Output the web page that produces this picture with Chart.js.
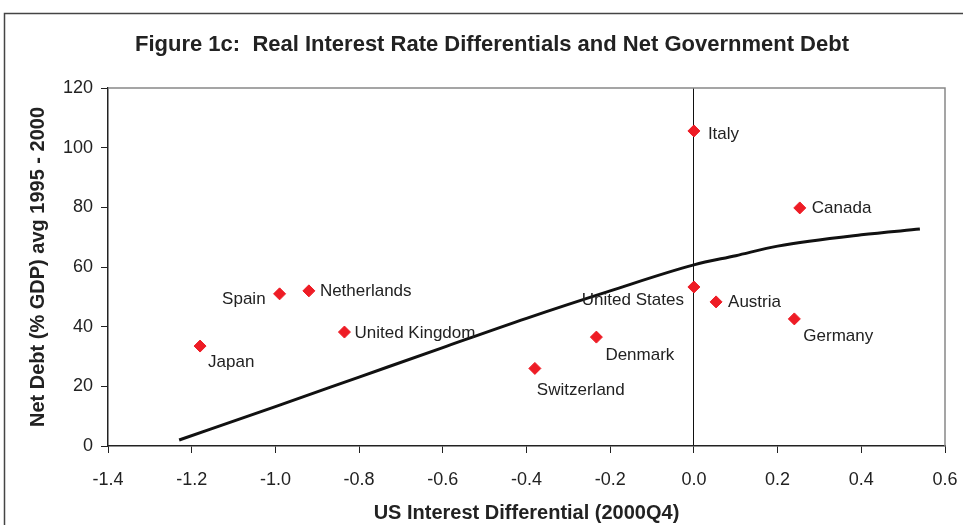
<!DOCTYPE html>
<html>
<head>
<meta charset="utf-8">
<script src="https://cdn.jsdelivr.net/npm/chart.js@4.4.1/dist/chart.umd.min.js"></script>
<style>
	html, body { margin: 0; padding: 0; background: #fff; }
	#wrap { position: relative; width: 963px; height: 525px; }
</style>
</head>
<body>
<div id="wrap"><canvas id="chart" width="963" height="525"></canvas></div>
<script>
// ── Data ────────────────────────────────────────────────────────────────────

const countries = ['Japan', 'Spain', 'Netherlands', 'United Kingdom', 'Switzerland', 'Denmark',
	'United States', 'Austria', 'Germany', 'Canada', 'Italy']
const interestDiff = [-1.18, -0.99, -0.92, -0.835, -0.38, -0.233, 0.0, 0.053, 0.24, 0.253, 0.0]
const netDebt = [33.5, 51, 52, 38.2, 26, 36.5, 53.3, 48.3, 42.6, 79.8, 105.6]

const fitX = [-1.23, -1.0, -0.8, -0.6, -0.4, -0.2, 0.0, 0.1, 0.2, 0.4, 0.54]
const fitY = [2, 13.2, 23.1, 33.0, 42.8, 52.0, 60.7, 63.8, 67.0, 70.8, 72.7]

const xTicks = { min: -1.4, max: 0.6, step: 0.2 }
const yTicks = { min: 0, max: 120, step: 20 }

const TITLE = 'Figure 1c:  Real Interest Rate Differentials and Net Government Debt'
const X_TITLE = 'US Interest Differential (2000Q4)'
const Y_TITLE = 'Net Debt (% GDP) avg 1995 - 2000'

// label placement next to each diamond: [dx, dy, align]
const labelPlace = [
	[8, 16, 'left'], [-14, 5, 'right'], [11, 0, 'left'], [10, 1, 'left'], [2, 22, 'left'],
	[9, 18, 'left'], [-10, 13, 'right'], [12, 0, 'left'], [9, 17, 'left'], [12, 0, 'left'], [14, 3, 'left'],
]

const FONT = '"Liberation Sans", Arial, sans-serif'
const INK = '#222'

// ── Plugins ────────────────────────────────────────────────────────────────

const framePlugin = {
	id: 'frame',
	beforeDraw(chart) {
		const c = chart.ctx
		c.save()
		c.fillStyle = '#fff'
		c.fillRect(0, 0, chart.width, chart.height)
		c.strokeStyle = '#444'
		c.lineWidth = 1.5
		c.strokeRect(4.5, 13.5, chart.width + 20, chart.height + 20)
		c.fillStyle = INK
		c.font = 'bold 22px ' + FONT
		c.textAlign = 'center'
		c.textBaseline = 'middle'
		c.fillText(TITLE, 492, 45)
		c.restore()
	},
	beforeDatasetsDraw(chart) {
		const a = chart.chartArea
		const c = chart.ctx
		c.save()
		c.strokeStyle = '#888'
		c.lineWidth = 1.5
		c.beginPath()
		c.moveTo(a.left, a.top)
		c.lineTo(a.right, a.top)
		c.lineTo(a.right, a.bottom)
		c.stroke()
		c.restore()
	},
}

const labelPlugin = {
	id: 'pointLabels',
	afterDatasetsDraw(chart) {
		const meta = chart.getDatasetMeta(1)
		const c = chart.ctx
		c.save()
		c.font = '17px ' + FONT
		c.fillStyle = INK
		c.textBaseline = 'middle'
		meta.data.forEach((pt, i) => {
			const [dx, dy, align] = labelPlace[i]
			c.textAlign = align
			c.fillText(countries[i], pt.x + dx, pt.y + dy)
		})
		c.restore()
	},
}

// ── Chart ───────────────────────────────────────────────────────────────────

const isZero = v => Math.abs(v) < 1e-9

new Chart(document.getElementById('chart'), {
	type: 'scatter',
	data: {
		datasets: [
			{
				label: 'Fit',
				type: 'line',
				data: fitX.map((x, i) => ({ x, y: fitY[i] })),
				borderColor: '#111',
				borderWidth: 3,
				pointRadius: 0,
				tension: 0.4,
				cubicInterpolationMode: 'monotone',
				fill: false,
			},
			{
				label: 'Countries',
				data: interestDiff.map((x, i) => ({ x, y: netDebt[i] })),
				pointStyle: 'rectRot',
				pointRadius: 6,
				backgroundColor: '#ee1c25',
				borderColor: '#ee1c25',
				borderWidth: 1,
			},
		],
	},
	options: {
		responsive: false,
		animation: false,
		layout: { padding: { top: 88, right: 18, left: 0, bottom: 0 } },
		plugins: {
			legend: { display: false },
			tooltip: { enabled: false },
		},
		scales: {
			x: {
				type: 'linear',
				min: xTicks.min,
				max: xTicks.max,
				afterFit: s => {
					s.height = 79
					s.paddingLeft = 0
					s.paddingRight = 0
				},
				ticks: {
					stepSize: xTicks.step,
					color: INK,
					font: { family: FONT, size: 18 },
					padding: 16,
					callback: v => (isZero(v) ? '0.0' : v.toFixed(1)),
				},
				grid: {
					color: ctx => (isZero(ctx.tick.value) ? '#111' : 'transparent'),
					lineWidth: 1,
					tickColor: '#222',
					tickLength: 7,
				},
				border: { color: '#222', width: 1.5 },
				title: {
					display: true,
					text: X_TITLE,
					color: INK,
					font: { family: FONT, size: 20, weight: 'bold' },
					padding: { top: 0, bottom: 0 },
				},
			},
			y: {
				min: yTicks.min,
				max: yTicks.max,
				afterFit: s => {
					s.width = 108
					s.paddingTop = 0
					s.paddingBottom = 0
				},
				ticks: {
					stepSize: yTicks.step,
					color: INK,
					font: { family: FONT, size: 18 },
					padding: 8,
				},
				grid: { drawOnChartArea: false, tickColor: '#222', tickLength: 7 },
				border: { color: '#222', width: 1.5 },
				title: {
					display: true,
					text: Y_TITLE,
					color: INK,
					font: { family: FONT, size: 20, weight: 'bold' },
					padding: { top: 26, bottom: 0 },
				},
			},
		},
	},
	plugins: [framePlugin, labelPlugin],
})
</script>
</body>
</html>
